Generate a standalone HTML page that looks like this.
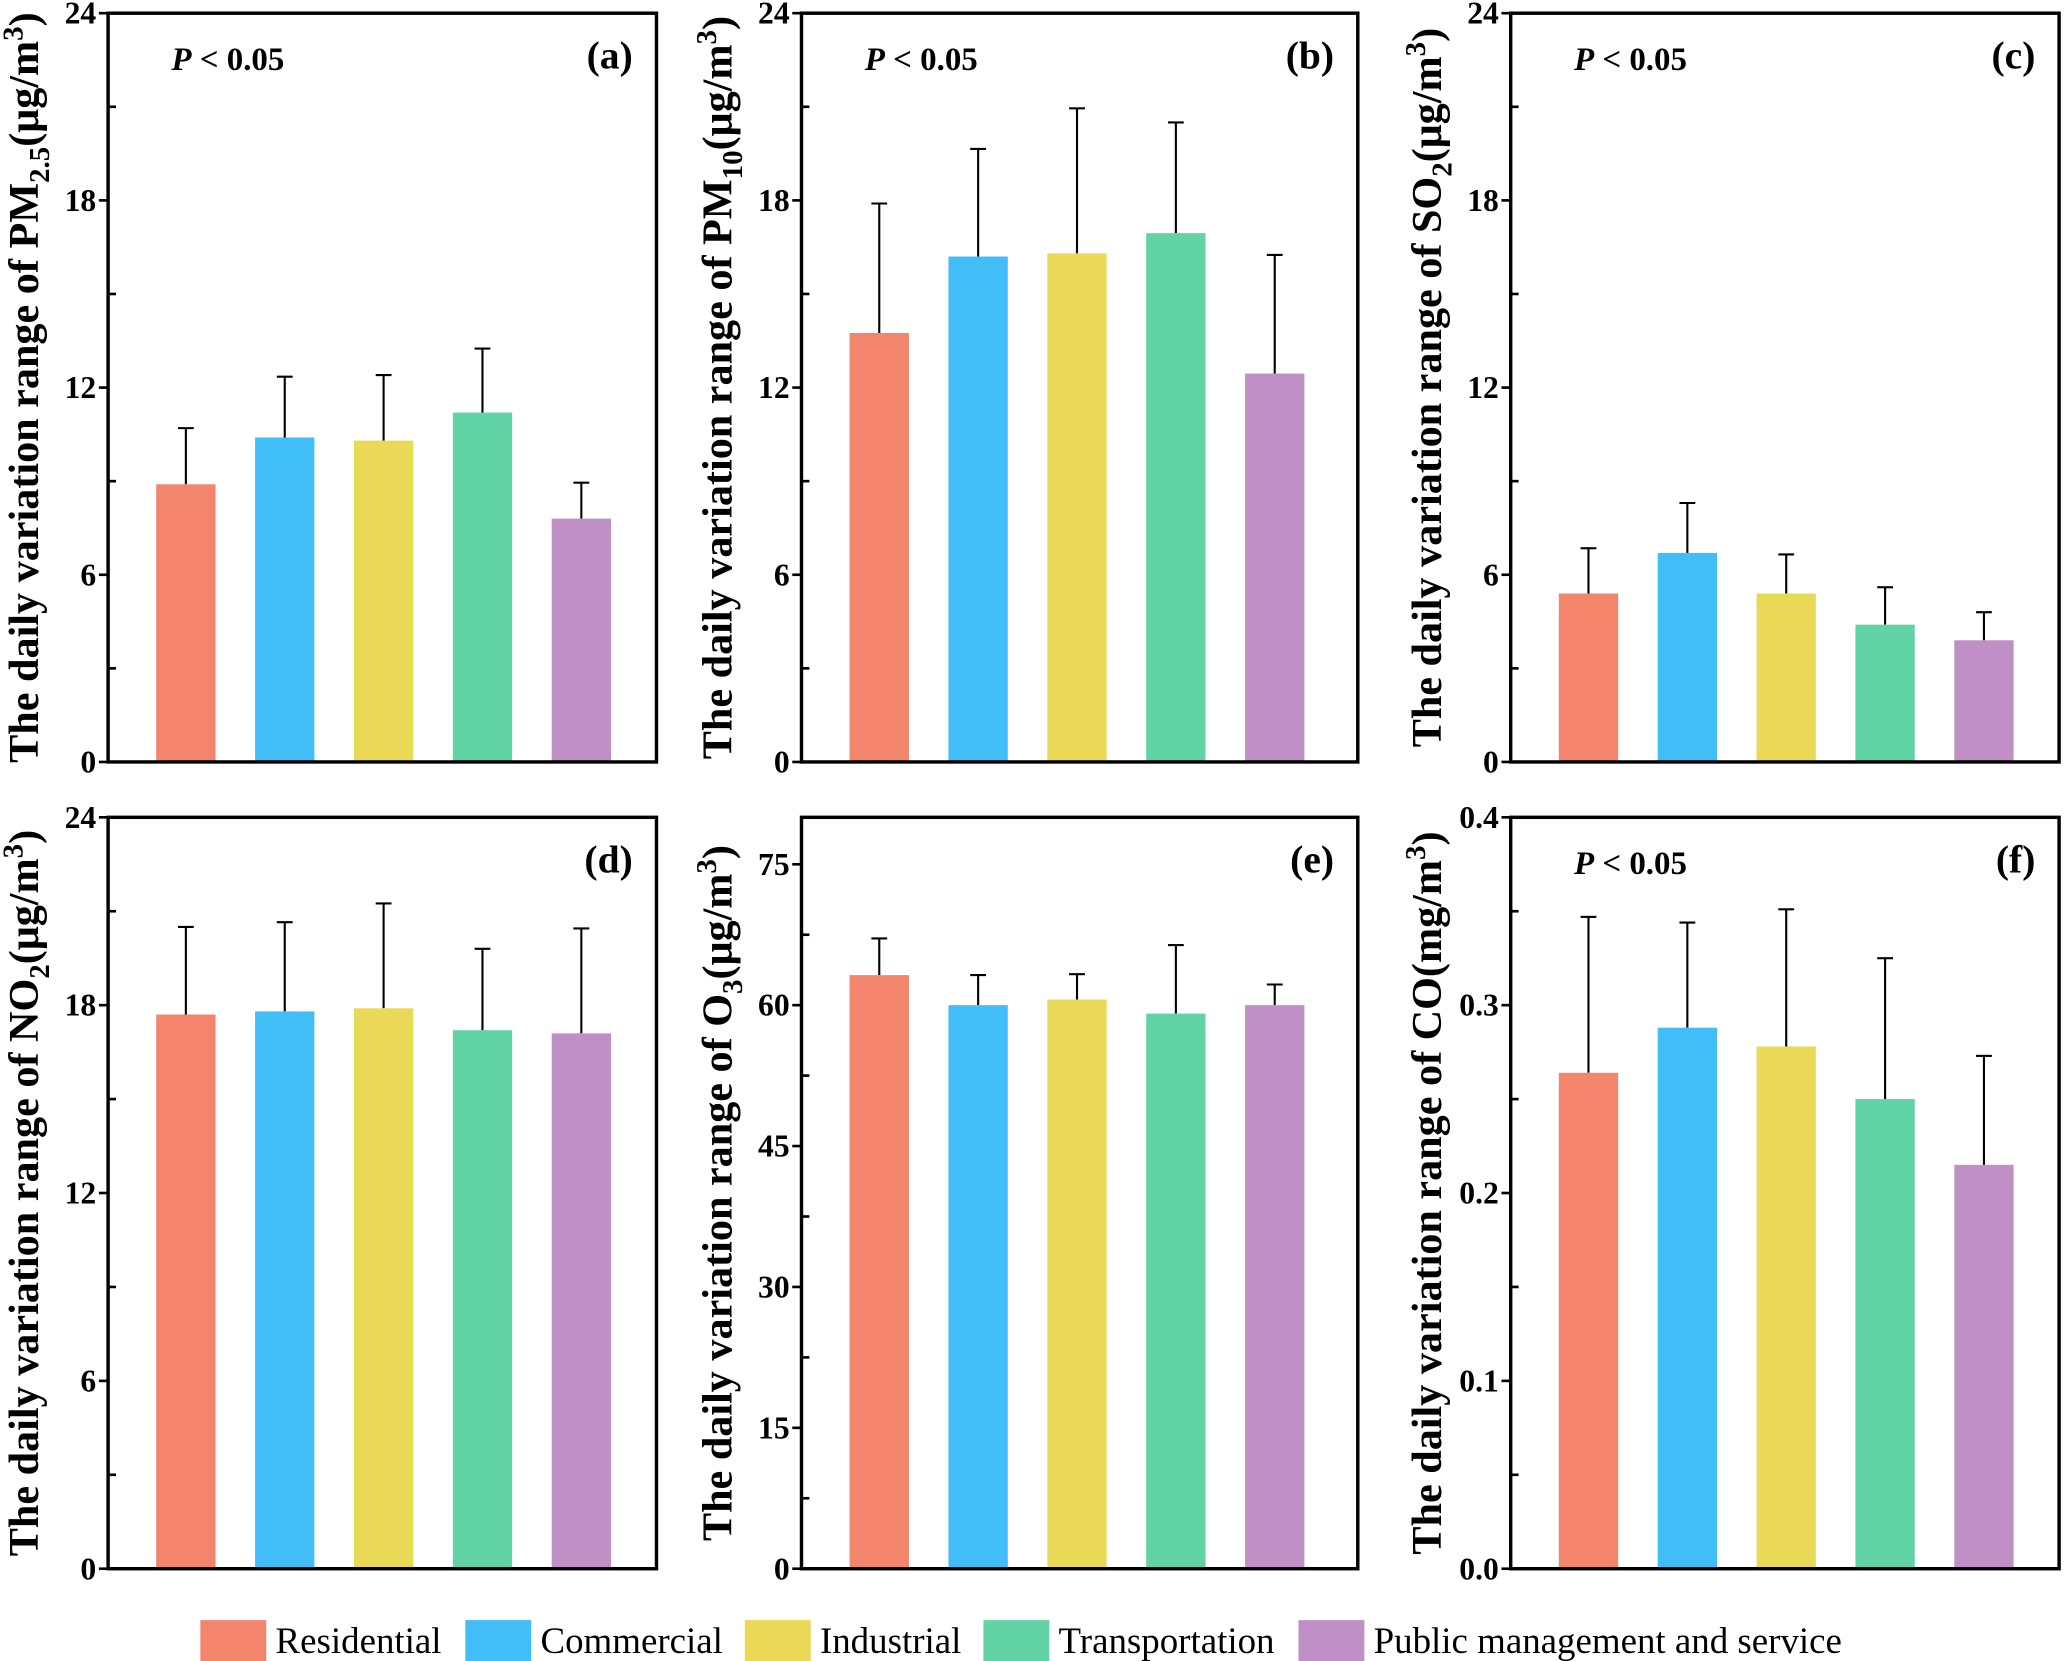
<!DOCTYPE html>
<html><head><meta charset="utf-8"><style>html,body{margin:0;padding:0;background:#fff}svg{display:block}</style></head>
<body>
<svg id="fig" width="2067" height="1661" viewBox="0 0 1568 1260" xmlns="http://www.w3.org/2000/svg" font-family="'Liberation Serif', serif"></svg>
<script>
const categories = ["Residential","Commercial","Industrial","Transportation","Public management and service"];
const colors = ["#F2856C","#41BDF8","#EAD957","#62D3A4","#C08FC6"];
const valsA = [8.9, 10.4, 10.3, 11.2, 7.8];
const errA  = [10.7, 12.35, 12.4, 13.25, 8.95];
const valsB = [13.75, 16.2, 16.3, 16.95, 12.45];
const errB  = [17.9, 19.65, 20.95, 20.5, 16.25];
const valsC = [5.4, 6.7, 5.4, 4.4, 3.9];
const errC  = [6.85, 8.3, 6.65, 5.6, 4.8];
const valsD = [17.7, 17.8, 17.9, 17.2, 17.1];
const errD  = [20.5, 20.65, 21.25, 19.8, 20.45];
const valsE = [63.2, 60.0, 60.6, 59.1, 60.0];
const errE  = [67.1, 63.2, 63.3, 66.4, 62.2];
const valsF = [0.264, 0.288, 0.278, 0.250, 0.215];
const errF  = [0.347, 0.344, 0.351, 0.325, 0.273];
const ticksAD = ["0","6","12","18","24"];
const ticksE = ["0","15","30","45","60","75"];
const ticksF = ["0.0","0.1","0.2","0.3","0.4"];

const NS="http://www.w3.org/2000/svg";
const svg=document.getElementById('fig');
function mk(tag,attrs,parent){const e=document.createElementNS(NS,tag);for(const k in attrs)e.setAttribute(k,attrs[k]);(parent||svg).appendChild(e);return e;}

const panels=[
 {id:'a',x0:82,x1:498,y0:10,y1:578,max:24,step:6,ticks:ticksAD,vals:valsA,errs:errA,p:true,sub:'2.5',sp:'PM',unit:'μg/m'},
 {id:'b',x0:608,x1:1030,y0:10,y1:578,max:24,step:6,ticks:ticksAD,vals:valsB,errs:errB,p:true,sub:'10',sp:'PM',unit:'μg/m'},
 {id:'c',x0:1146,x1:1562,y0:10,y1:578,max:24,step:6,ticks:ticksAD,vals:valsC,errs:errC,p:true,sub:'2',sp:'SO',unit:'μg/m'},
 {id:'d',x0:82,x1:498,y0:620,y1:1190,max:24,step:6,ticks:ticksAD,vals:valsD,errs:errD,p:false,sub:'2',sp:'NO',unit:'μg/m'},
 {id:'e',x0:608,x1:1030,y0:620,y1:1190,max:80,step:15,ticks:ticksE,vals:valsE,errs:errE,p:false,sub:'3',sp:'O',unit:'μg/m'},
 {id:'f',x0:1146,x1:1562,y0:620,y1:1190,max:0.4,step:0.1,ticks:ticksF,vals:valsF,errs:errF,p:true,sub:'',sp:'CO',unit:'mg/m'}
];

panels.forEach(P=>{
  const g=mk('g',{});
  
  
  const y=v=>P.y1-(v/P.max)*(P.y1-P.y0);
  const xc=i=>P.x0+59+75*i;
  P.vals.forEach((v,i)=>{
    const ey=y(P.errs[i]);
    const l=mk('line',{x1:xc(i),x2:xc(i),y1:ey,y2:y(v),stroke:'#000','stroke-width':1.6},g);
    
    
    const c=mk('line',{x1:xc(i)-6,x2:xc(i)+6,y1:ey,y2:ey,stroke:'#000','stroke-width':1.6},g);
    
    
    const r=mk('rect',{x:xc(i)-22.5,y:y(v),width:45,height:P.y1-y(v),fill:colors[i]},g);
    
    
  });
  for(let k=0;k*P.step<=P.max+1e-9;k++){
    const v=k*P.step, yy=y(v);
    mk('line',{x1:P.x0-7,x2:P.x0,y1:yy,y2:yy,stroke:'#000','stroke-width':2},g);
    const t=mk('text',{x:P.x0-9,y:yy+8,'text-anchor':'end','font-size':24,'font-weight':'bold'},g);
    t.textContent=P.ticks[k];
    
    
    const mv=v+P.step/2;
    if(mv<P.max-1e-9){const my=y(mv);mk('line',{x1:P.x0,x2:P.x0+6,y1:my,y2:my,stroke:'#000','stroke-width':2},g);}
  }
  const fr=mk('rect',{x:P.x0,y:P.y0,width:P.x1-P.x0,height:P.y1-P.y0,fill:'none',stroke:'#000','stroke-width':2.6},g);
  
  
  const lb=mk('text',{x:P.x1-18,y:P.y0+42,'text-anchor':'end','font-size':30,'font-weight':'bold'},g);
  lb.textContent='('+P.id+')';
  
  
  if(P.p){
    const pt=mk('text',{x:P.x0+48,y:P.y0+43,'font-size':25,'font-weight':'bold'},g);
    pt.innerHTML='<tspan font-style="italic">P</tspan> &lt; 0.05';
    
    
  }
  const cx=P.x0-53, cy=(P.y0+P.y1)/2;
  const yt=mk('text',{x:cx,y:cy,'text-anchor':'middle','font-size':32,'font-weight':'bold',transform:`rotate(-90 ${cx} ${cy})`},g);
  let h='The daily variation range of '+P.sp;
  if(P.sub) h+='<tspan font-size="22" dy="8">'+P.sub+'</tspan><tspan dy="-8">('+P.unit+'</tspan>';
  else h+='('+P.unit;
  h+='<tspan font-size="22" dy="-12">3</tspan><tspan dy="12">)</tspan>';
  yt.innerHTML=h;
  
  
});

const legX=[152,353,565,746,985];
const lg=mk('g',{});


categories.forEach((c,i)=>{
  const r=mk('rect',{x:legX[i],y:1229,width:50,height:31,fill:colors[i]},lg);
  
  
  const t=mk('text',{x:legX[i]+57,y:1254,'font-size':28},lg);
  t.textContent=c;
  
  
});
</script>
</body></html>
